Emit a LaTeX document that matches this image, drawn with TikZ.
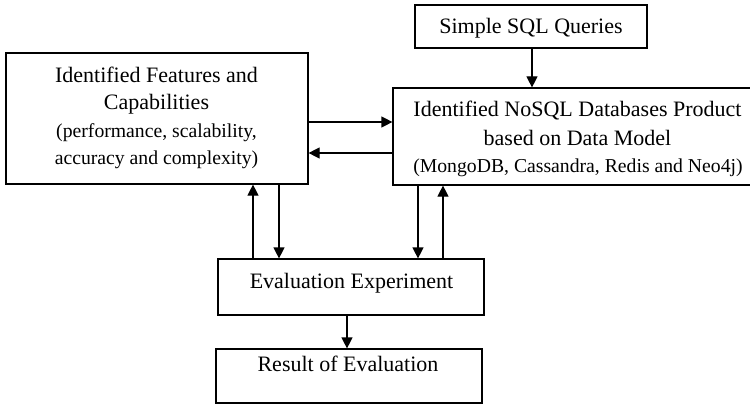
\documentclass[tikz,border=0pt]{standalone}
\usepackage{fontspec}
\setmainfont{Liberation Serif}
\usetikzlibrary{arrows.meta}
\newcommand\bigtxt{\fontsize{22}{27}\selectfont}
\newcommand\smalltxt{\fontsize{19.7}{27}\selectfont}
\begin{document}
\begin{tikzpicture}[x=1pt,y=-1pt,
  box/.style={draw, line width=1.2pt, inner sep=0pt},
  lbl/.style={anchor=base, inner sep=0pt},
  arr/.style={line width=1.2pt, -{Triangle[length=11pt,width=11pt]}}]
  \clip (0,0) rectangle (750,404);

  % boxes
  \node[box, minimum width=302pt, minimum height=131pt] (feat)  at (157,118.5) {};
  \node[box, minimum width=368pt, minimum height=97pt]  (nosql) at (577,136.5) {};
  \node[box, minimum width=232pt, minimum height=43pt]  (sql)   at (531,26.5)  {};
  \node[box, minimum width=266pt, minimum height=56pt]  (eval)  at (351,287)   {};
  \node[box, minimum width=266pt, minimum height=54pt]  (res)   at (349,376)   {};

  % texts
  \node[lbl] (featA) at (156.5,83)  {\bigtxt Identified Features and};
  \node[lbl] (featB) at (156.5,110) {\bigtxt Capabilities};
  \node[lbl] (featC) at (156.5,137) {\smalltxt (performance, scalability,};
  \node[lbl] (featD) at (156.5,164) {\smalltxt accuracy and complexity)};

  \node[lbl] (nosqlA) at (577.5,117) {\bigtxt Identified NoSQL Databases Product};
  \node[lbl] (nosqlB) at (577.5,145) {\bigtxt based on Data Model};
  \node[lbl] (nosqlC) at (578,172)   {\smalltxt (MongoDB, Cassandra, Redis and Neo4j)};

  \node[lbl] (sqlT)  at (531,34)    {\bigtxt Simple SQL Queries};
  \node[lbl] (evalT) at (351.5,288) {\bigtxt Evaluation Experiment};
  \node[lbl] (resT)  at (348,371)   {\bigtxt Result of Evaluation};

  % connectors
  \draw[arr] ([xshift=1pt]sql.south) -- ([xshift=1pt]sql.south |- nosql.north);
  \draw[arr] ([yshift=-3.5pt]feat.east) -- ([yshift=-3.5pt]feat.east -| nosql.west);
  \draw[arr] ([yshift=-34.5pt]feat.east -| nosql.west) -- ([yshift=-34.5pt]feat.east);
  \draw[arr] ([xshift=96pt]feat.south |- eval.north) -- ([xshift=96pt]feat.south);
  \draw[arr] ([xshift=122pt]feat.south) -- ([xshift=122pt]feat.south |- eval.north);
  \draw[arr] ([xshift=-159pt]nosql.south) -- ([xshift=-159pt]nosql.south |- eval.north);
  \draw[arr] ([xshift=-134pt]nosql.south |- eval.north) -- ([xshift=-134pt]nosql.south);
  \draw[arr] ([xshift=-4pt]eval.south) -- ([xshift=-4pt]eval.south |- res.north);
\end{tikzpicture}
\end{document}
